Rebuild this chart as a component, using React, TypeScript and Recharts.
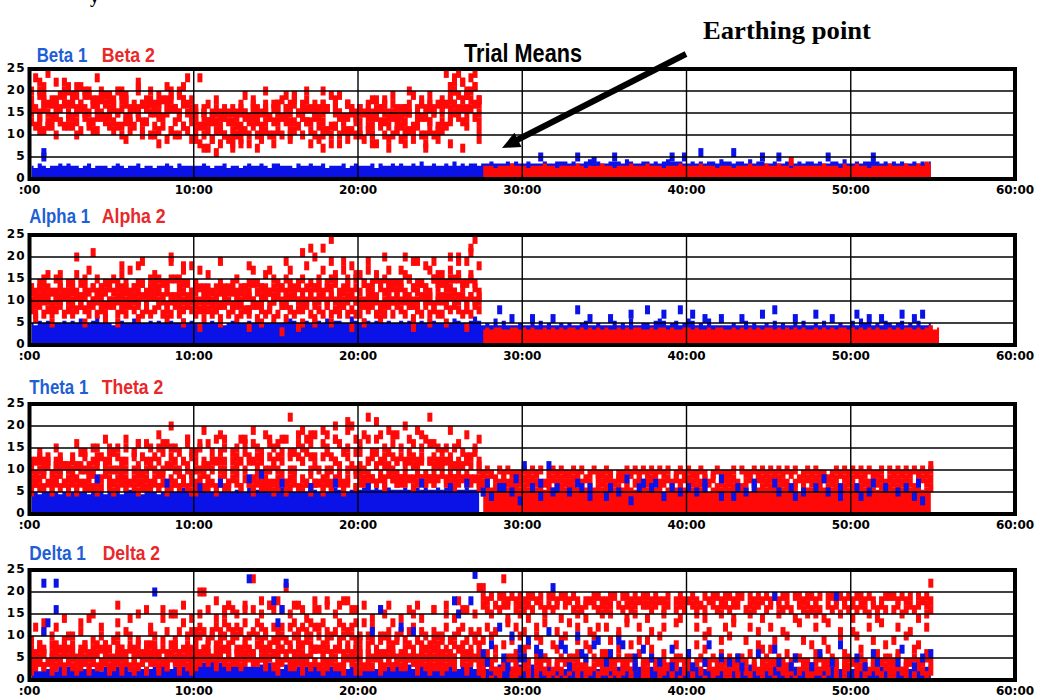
import { ComposedChart, XAxis, YAxis, Area, Scatter, ReferenceLine, ReferenceArea } from 'recharts';

// one character = one 15 s sample; "." = no sample
const STEP = 0.25;
const EARTH = 27.5; // minutes, earthing point

const BLUE = '#0a12e8';
const RED = '#ff0808';
const LABEL_BLUE = '#1f5fd6';
const LABEL_RED = '#e8282a';

const timeTicks = [0, 10, 20, 30, 40, 50, 60];
const valueTicks = [0, 5, 10, 15, 20, 25];

// ---------- Beta ----------
// band tops in half units (base 36 char / 2), from 0:00
const beta1Band = "6576566767 6656756665 6765667566 5667657666 6676566756 6567667657 7666576676 6756667567 6667576676 7667686676 6768676776 7787778787 7877787788 8787789787 7888798778 8787898887 7878788798 8788797887 7877887878 8787788797 7878898787 8787787878";
const beta1Spikes = ["...5", "...6"];
const beta1Post = ".......... ....5..... ...5...4.. ..5....... ......5..5 ...6...... .6......5. ..5....... ....5..... .....5.... ..........";
const beta2Band = "6665666766 6566676656 6667656667 6656667666 7666566676 6667666566 6566676667 6676656666 6667666576 6766566667 6667667687";
const beta2Cloud = [
  "k.mlh.mj.k jl.kj.ik.j i.kjg.lh.k hj.ik.jl.i g.fhd.fe.g fh.ei.fh.g h.jfi.gk.f gh.jg.eh.f f.gei.hf.g gf.je.gh.h h.jmo.jn.h",
  "i.kj.ih.jl .jh.ki.jh. h.ji.gk.i. .hi.jg.ih. f.g.ef.g.f .gf.hg.g.h hi.gj.hi.g .hg.if.hg. g.hf.gi.h. .gh.fi.hg. i.lk.mj.li",
  "hgjifhigkh ighjfhgije gfihegfhgi fhegigfhfe dcebfdcedb ecfdgecfed fegdhfegdf edgcfedhfe dfecgdfeed edfcgeedfc fhgkjigklf",
  "g.fh.eg.hf h.gf.hg.ei .fge.hf.gh gf.hg.fi.g e.fd.ge.fd .fe.gd.fe. f.gh.fe.gh .fg.hf.eg. g.fe.gh.fe .gf.eh.gf. g.ih.gj.hi",
  "f.dgc.ed.f ef.gd.ee.g d.ced.gd.f ce.fb.ec.d b.cd9.ba.9 cb.ae.bd.a d.ebd.fd.e cb.ac.db.d b.cae.dc.b cb.be.ad.b d.ehg.ei.d",
  "dcebdcfdce cdbecdbfdc bcadbcebda abc9bdacb9 98a79b8a97 a9b8ca9ba8 badabcadba 9ab8cab9ba a9ba8ca9ab 9ab9ca8ba9 bcdfedcgeb",
  ".n..o...m. ..l...n... .k....m... ...l..k.n. .n...i.... ..j....k.. ....j..... .k...j.... ...i....j. ..k....j.. .oln.mk.o.",
  "..b...a..c .a...b.... ...9...a.. .8...a.... ..7..6...8 .8...7.... ...9....8. .7...8.... ...8...7.. .8....7... ..8..7...9",
];
const beta2Post = ".......... .......... .......... .......... .......... .......... .......... .....4....";

// ---------- Alpha ----------
const alpha1Band = "a9bab9aaba bacaabdaba 9abaacbaab abaabaacab a9aabaa9ab baabacbaab aabcbaabac bacabbaadb acbabcabaa babcabacba abacbaabdb 9a9c9b999a 99a9b9a99a 9a99ab99a9 99b9a9c99a a9bcb9ab9a cb9a9c9999 9a99b9a99a 9b9a99a9b9 9a9b999a99 b9cab9a9ba 9ab9a9b99a";
const alpha1Post = "....8..6.. ..6....6.. ...8..6... .6....7... 8...7...8. .7..6...6. ...6....7. .8....6... .7...6.... .7..6..6.. ..7..6.7..";
const alpha2Band = "7878877887 8787787878 7887878787 8778787887 7878878778 8787787887 7878787878 8787878787 7878787887 8787878778 7878878789 78";
const alpha2Cloud = [
  "d.ecg.fe.c eg.fh.fd.e f.gdh.ie.f gf.ej.fh.i e.dgc.ed.e fd.eh.dg.f e.fhd.fi.k fh.jg.hf.g g.heg.fh.e hg.je.ih.g g.hfk.jl.i",
  "dc.ed.cd.e c.ed.dc.ed .edc.de.cd ed.cf.de.c d.cd.bd.cd c.dc.ed.cd .dce.dc.ed e.dfe.cd.f .ed.fe.dec e.fd.ed.fe .ed.fe.ge.",
  "cbdcacbdcb dcbecdbdcd cdbecdcebd dcedbfdcec cdbcadcbdc bcdbecbdcb cdbdcebdcd dcedfcdecd cedcfdcedc dcfdcedcfd edfcgdefdc",
  "9.ab.9ab.a a.9b.ab9.a .ab9.ba.9b b.a9.ab.ab a.9a.89a.9 9a.8a.9b.a .a9b.a8.ba b.ab.9ab.a a.9ba.9ba. .ab9a.ba9b ab.ab.ab.a",
  "a9bab9aaba 9bab9aab9a ab9abaab9b bab9ab9aba 9a8b9a9ba8 a9b8a9ab9a b9a8ba9ab9 ab9bab9aba 9abab9abab ab9a8bab9a babcab9bab",
  "8797878978 7898797879 9787989787 8978797898 7868786978 6787968786 7968785976 8797879787 7989787979 8796879787 7989878798",
  "...f...g.. .k...l.... ..i....j.. ....k..i.. .h....j... ...i....h. ..j...l.m. .m.o..j.i. ..j...k... .k..j...j. ..k.j..mo.",
  ".6...5.... ...5....6. .5....6... ...6...5.. .4....5... ...4..5... .3...4...5 ...5....4. .5...6.... ...4...5.. .5....4...",
];

// ---------- Theta ----------
const theta1Band = "9a9aa9a9aa a9aa9aba9a aa9abaa9ab a9aabaaca9 aabaacaaba baacabdaab acbaadcaab abaacbaaba bccbcbbcbb bcbbcbcbbc bcbcbbcbba";
const theta1Dots = ".......... ......8... .......... ...7...... .6....7... ...8..9... .7......6. ....7..... ..6....... .....7.... ..6...7...";
const theta1Post = [
  "5.4.6..5.3 ..6.4..5.. .5..6.4... 4..5..3.6. .6..4...5. ..5.6...4. .4..5.6... ..5...4.5. .6..5..4.. ..4.5...6. .5...4.3..",
  ".7...6..8. b...7.b.6. ...7..6... .6...8...7 ..7...6... 6...7...8. ..6...7... .7...6.... ...8...6.. .6...7.... ...6..7...",
];
const theta2Cloud = [
  "c.dcb.cd.b d.be.cf.ce e.cf.eg.cf .feg.fe.he ef.ge.ch.e f.gd.fe.gf g.he.gf.gi .gf.hg.fkh g.he.if.gi f.eg.fh.gf e.df.ed.fc",
  "b.cbc.bcb. cb.db.cdbc .dbc.dbd.c dc.bdc.cbd c.cbc.ec.c dce.cdc.dc de.de.cedd .dedc.ed.e e.cde.dedc dc.dcd.cdc c.cbc.cd.b",
  "a9aa.9aaba a.aa9ab.9a aa9a.aa9ab a9a.baa.a9 aab.acaa.a b.ac.bdaab ac.aadc.ab a.aacb.aba bac.bcbbac .bcbbc.cbb bcb.bbcb.a",
  "8789.78978 98.78978.8 7898.89787 8.978798.9 78987.8978 9.8789787. 89789.8797 .8978978.9 9898.98989 89.8989898 9.989898.8",
  "67.6767.76 7676.676.7 .6767676.6 767.67.767 6767.6767. 76.7676767 6.767.6767 7676.767.6 7.78787.87 878.78787. .8787.8787",
  "5.6..5.6.5 .5..6.5..6 5..6..5.6. .6.5..6..5 5..6.5..6. .6..5..6.5 6.5..6..5. .5.6..5..6 .7..7.6..7 7..6..7.7. .7.6..7..6",
  "..e...f... .g...f..h. ...h..g... .i..k...h. ..j...i... .h..j..i.. ...m..j.i. .j..k..l.. ..m.l..j.. .k..j..m.. ..j...i..h",
  ".c..d..c.. ..e...d..f .f...e..g. ..g.f...g. .g...h.f.. ..h.g...h. .h...i.h.. ..i.h..j.. .i..h...i. ..h..i.g.. .f..g...e.",
];
const theta2Band = "aababaabaa babaabaaba aabaababab abaabaabaa baabaababa aababaabab abaababaab baabaabaab aababaabaa ababaabaab aabaababab";
const theta2Post = [
  "9a9.a9a999 a9a9a.9a9a 99a9a.9a99 a9.99a9a9a 9a9a9a.9a9 a99a9.9a99 9a.a99a9a9 a9a9a9a.9a 9a99.9a9a9 a9a9a99a.a 9a9a9a9a9a",
  "78.8787787 8787.77878 7788787.87 877887.787 78.7787878 8787878.78 787.787887 87877.7878 7878878.87 8.87787878 78787.7878",
  "5656.65665 65656.6566 566565.565 6556565.56 5656.56565 65655.5656 56565.5565 6565656.65 5.65656565 656565.656 5656565.56",
  ".......... .......... .......... .......... .......... .......... .......... .......... .......... .......... .........b",
];

// ---------- Delta ----------
const delta1Band = "5646564656 6565656465 5656466565 6576565676 8787968778 7686767686 6576567657 6566576566 5676567657 6575676567 6768576658 6566756657 6575667565 5676566756 6656756665 5665676566 6566565765 5665676565 6756656566 6565766575 5666565676 6567566567";
const delta1Dots = [
  "...md.m... .......... .......... k......... .......... ...n.....i ..m....... .......... ...b.g.... c..b...... ...i....o.",
  "...b..g... .......... .......... .......... .......... .......... dg........ .......... .......... .......... ....f..i..",
];
const delta1Post = [
  "6.8..5.a.7 .9..6.b..8 7..a.5..9. .6..8..5.7 .5....7... 6....8.... ..5....6.. .7....5... ..6....8.. .5...6.... ..7....5.6",
  ".4..c.3..5 5..7...l.. .3..6..8.. 4..9...3.. ...4..3... .3..4...5. 4..3...... .j4..3.... 3....4j... ...3..4... .4...3....",
];
const delta2Cloud = [
  "7.87.8778. 8.78.78.87 .87.878.78 8.7.88.787 9a.9a.9a.9 a.9a.a9a.9 9a9.a9.9a. a.9a.9a.a9 9.89.9.989 .98.98.898 9.98.89.98",
  "6.76.67.67 7.67.6.76. .67.76.67. 76.6.76.76 8.78.87.8. 7.87.8.78. 87.8.78.87 .87.78.8.7 7.6.76.76. 67.7.67.76 .76.7.67.7",
  "5656.56565 6565656.65 5656.56566 65.5656565 7676.7676. 67676.7676 6767676.67 7676.76767 6.65656565 565656.656 6565.65656",
  ".45.4.54.5 5.4.54.45. 4.54.5.45. .5.45.4.54 6.56.65.6. .65.6.56.6 5.5.45.5.4 .54.5.45.5 5.4.54.5.4 .45.4.54.5 5.45.4.5.4",
  "4343.43434 3434343.43 .4343434.4 4343.43434 545.545454 4545.4545. 44.4344434 3434.34.43 4343.43434 34.4343434 4343.434.4",
  "2..3.2..2. .2..2..3.2 3.2..2..2. .2.3..2..2 3..4.3..3. .3..4..3.3 2..3..2.3. .2..3.2..2 2.3..2..3. .3..2..2.3 2..3..2..2",
  "9.8b.a8.9a a.b8.9.a8. 9a.ba.9.8b a.9b.9b.ab bcb.bcbdcb cbd.bdcb.c bc.cdbcbdc cdb.bdcbcd a.ac.aab.a b.bc.ba.ba ac.abc.bab",
  ".c.d..c.e. ..d.e..c.. .d..e.f..c ..e.f..d.e .f.g.e.fhg f.h.g.f.hg .g.f.h.e.g g.h.f.i.g. .d.e..f.d. e..f.e..g. .f.e.g..f.",
  ".......... .....f.... .h......g. ..g..f.h.. .kk..i.gh. ..g.n.i.h. i.l.h.g..i ..i..h.i.g .h...g.h.. ..g.h...g. .h..i.g..l",
];
const delta2Post = [
  "jij.jjijij ijjij.jjij jiji.iijji ijj.jjijij jijiij.iji iji.jijjij jijj.jijij ijijj.jjij jij.jjijij ijjiji.ijj jijij.jiji",
  "hg.hghh.gh ghg.hghgh. h.ghgh.hgh gh.hghgh.h hgh.gh.ghg .hghg.hghh ghh.ghgh.g h.hghg.hgh ghg.hgh.hg hghg.hghg. gh.ghgh.hg",
  "..f...e..f .e...f...e ...f.e...f .f...e.f.. e...f...e. ..f.e...f. .e...f..e. ..f...e..f .f.e...f.. e...f.e... ..f...e.f.",
  ".c.b..d.c. b..c.d..b. .d.c..b.c. c..b.d..c. .b..c..d.. ..c..b...c .d...c.b.. c..b...d.. .c..d..b.. b...c..d.. .c..b...c.",
  "9.a..8.9.a .8.a9..8.9 a..9.8.a.. .9.a..8.9. 9..a...8.. ..8.a...9. a...9..8.. .9..a...9. 8..9...a.. .a...9..8. 9..a..8...",
  ".6.7..5.6. 7..6.5..7. .5.6..7..6 6..7.5..6. .7..6..5.. 6...7...6. ..5..6..7. 7...6..5.. .6..7...6. ..7...6..5 .6...7..6.",
  "4.45.4454. 54.4454.45 4454.4.544 .4454454.4 454.4.4454 4.454454.4 54454.4.45 4454.45.44 .454454.45 4454.4.454 45.4454454",
  "2.3223.232 32.232.232 .2323223.2 232.2323.3 2.322323.2 32.2.32232 232.2.3223 2.3232.232 32232.3.23 .232232.32 2323.232.2",
  "1.0.1..01. .1.0..1.0. 0..1.0..1. .0.1..0..1 1..0..1.0. .1..0.1..0 0.1..1..0. .0..1.0..1 1..0..1.0. .1.0...1.0 0..1.0..1.",
  "l....n.... .......... .......... .......... .......... .......... .......... .......... .......... .......... .........m",
];

type Pt = { t: number; y: number };
type Layer = { kind: 'area' | 'dots'; data: any[]; color: string };

const chars = (s: string) => s.replace(/\s+/g, '').split('');

const dots = (s: string, from = 0): Pt[] =>
  chars(s).flatMap((c, i) => (c === '.' ? [] : [{ t: from + (i + 0.5) * STEP, y: parseInt(c, 36) }]));

// filled band from 0 up to a top given in half units
const band = (top: string, from = 0) =>
  chars(top).map((c, i) => ({
    t: from + (i + 0.5) * STEP,
    v: c === '.' ? null : [0, parseInt(c, 36) / 2],
  }));

const A = (data: any[], color: string): Layer => ({ kind: 'area', data, color });
const D = (data: Pt[], color: string): Layer => ({ kind: 'dots', data, color });

const panels = [
  {
    top: 69, labelY: 62,
    names: ['Beta 1', 'Beta 2'], nameX: [36.7, 101.7], nameW: [50.6, 53.3],
    layers: [
      A(band(beta1Band), BLUE),
      A(band(beta2Band, EARTH), RED),
      ...beta2Cloud.map((s) => D(dots(s), RED)),
      D(dots(beta2Post, EARTH), RED),
      ...beta1Spikes.map((s) => D(dots(s), BLUE)),
      D(dots(beta1Post, EARTH), BLUE),
    ],
  },
  {
    top: 235, labelY: 223,
    names: ['Alpha 1', 'Alpha 2'], nameX: [29.3, 101.7], nameW: [60.7, 64],
    layers: [
      A(band(alpha1Band), BLUE),
      A(band(alpha2Band, EARTH), RED),
      ...alpha2Cloud.map((s) => D(dots(s), RED)),
      D(dots(alpha1Post, EARTH), BLUE),
    ],
  },
  {
    top: 403.5, labelY: 394,
    names: ['Theta 1', 'Theta 2'], nameX: [29.3, 101.7], nameW: [59, 61.6],
    layers: [
      A(band(theta1Band), BLUE),
      A(band(theta2Band, EARTH), RED),
      ...theta2Cloud.map((s) => D(dots(s), RED)),
      ...theta2Post.map((s) => D(dots(s, EARTH), RED)),
      D(dots(theta1Dots), BLUE),
      ...theta1Post.map((s) => D(dots(s, EARTH), BLUE)),
    ],
  },
  {
    top: 569.5, labelY: 560,
    names: ['Delta 1', 'Delta 2'], nameX: [29.3, 102.7], nameW: [56.7, 57.3],
    layers: [
      A(band(delta1Band), BLUE),
      ...delta2Cloud.map((s) => D(dots(s), RED)),
      ...delta2Post.map((s) => D(dots(s, EARTH), RED)),
      ...delta1Dots.map((s) => D(dots(s), BLUE)),
      ...delta1Post.map((s) => D(dots(s, EARTH), BLUE)),
    ],
  },
];

const mark = (color: string) => (p: any) =>
  p.cx == null || p.cy == null ? <g /> : <rect x={p.cx - 2.5} y={p.cy - 4.5} width={5} height={9} fill={color} />;

const fmtTime = (v: number) => (v === 0 ? ':00' : `${v}:00`);

const tickFont = { fill: '#000', fontWeight: 700, fontFamily: "'DejaVu Sans', sans-serif" };
const labelFont = "'Liberation Sans', Arial, sans-serif";

function Panel({ top, layers }: { top: number; layers: Layer[] }) {
  return (
    <div style={{ position: 'absolute', left: 0, top: top - 8 }}>
      <ComposedChart width={1039} height={144} margin={{ top: 8, right: 24, bottom: 0, left: 0 }}>
        <XAxis
          type="number"
          dataKey="t"
          domain={[0, 60]}
          ticks={timeTicks}
          interval={0}
          allowDataOverflow
          tickFormatter={fmtTime}
          axisLine={false}
          tickLine={false}
          tickSize={0}
          tickMargin={6}
          height={26}
          tick={{ ...tickFont, fontSize: 12 }}
        />
        <YAxis
          type="number"
          dataKey="y"
          domain={[0, 25]}
          ticks={valueTicks}
          interval={0}
          allowDataOverflow
          width={29.5}
          axisLine={false}
          tickLine={false}
          tickSize={0}
          tickMargin={4}
          tick={{ ...tickFont, fontSize: 12, letterSpacing: 1, dy: -1 }}
        />
        {layers.map((l, i) =>
          l.kind === 'area' ? (
            <Area
              key={i}
              data={l.data}
              dataKey="v"
              type="step"
              stroke="none"
              fill={l.color}
              fillOpacity={1}
              dot={false}
              activeDot={false}
              connectNulls={false}
              isAnimationActive={false}
            />
          ) : (
            <Scatter key={i} data={l.data} fill={l.color} shape={mark(l.color)} isAnimationActive={false} />
          )
        )}
        {[5, 10, 15, 20].map((v) => (
          <ReferenceLine key={`h${v}`} y={v} stroke="#000" strokeWidth={1.6} zIndex={2000} />
        ))}
        {[10, 20, 30, 40, 50].map((v) => (
          <ReferenceLine key={`v${v}`} x={v} stroke="#000" strokeWidth={1.4} zIndex={2000} />
        ))}
        <ReferenceArea x1={0} x2={60} y1={0} y2={25} fill="none" stroke="#000" strokeWidth={4} zIndex={2001} />
      </ComposedChart>
    </div>
  );
}

export default function App() {
  return (
    <div style={{ position: 'absolute', left: 0, top: 0, width: 1039, height: 696, background: '#fff', overflow: 'hidden' }}>
      {panels.map((p) => (
        <Panel key={p.names[0]} top={p.top} layers={p.layers} />
      ))}
      <svg width={1039} height={696} style={{ position: 'absolute', left: 0, top: 0, pointerEvents: 'none' }}>
        <text x={90} y={3} fontFamily="'Liberation Serif', serif" fontWeight={700} fontSize={18} fill="#000">y</text>
        {panels.map((p) => (
          <g key={p.names[0]} fontFamily={labelFont} fontWeight={700} fontSize={21}>
            <text x={p.nameX[0]} y={p.labelY} fill={LABEL_BLUE} textLength={p.nameW[0]} lengthAdjust="spacingAndGlyphs">
              {p.names[0]}
            </text>
            <text x={p.nameX[1]} y={p.labelY} fill={LABEL_RED} textLength={p.nameW[1]} lengthAdjust="spacingAndGlyphs">
              {p.names[1]}
            </text>
          </g>
        ))}
        <text x={464} y={62} fontFamily={labelFont} fontWeight={700} fontSize={25} fill="#000" textLength={118} lengthAdjust="spacingAndGlyphs">
          Trial Means
        </text>
        <text x={703} y={39} fontFamily="'Liberation Serif', 'Times New Roman', serif" fontWeight={700} fontSize={26} fill="#000" textLength={168} lengthAdjust="spacingAndGlyphs">
          Earthing point
        </text>
        <line x1={686} y1={54} x2={517} y2={140} stroke="#000" strokeWidth={6} />
        <polygon points="502,148 521.6,146.9 514.4,132.7" fill="#000" />
      </svg>
    </div>
  );
}
